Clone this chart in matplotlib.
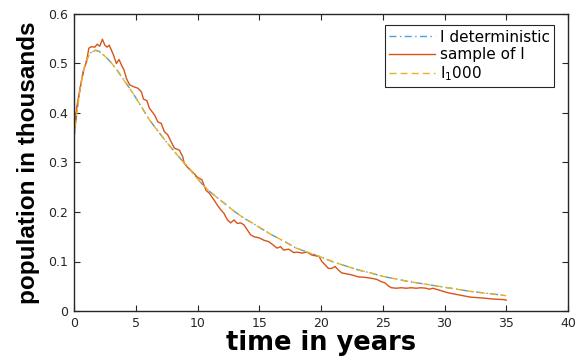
import matplotlib
matplotlib.use("Agg")
import matplotlib.pyplot as plt

# deterministic solution I(t)
t_det = [0, 0.25, 0.5, 0.75, 1.0, 1.25, 1.5, 1.75, 2.0, 2.5, 3.0, 3.5, 4.0, 4.5,
         5.0, 5.5, 6.0, 6.5, 7.0, 7.5, 8.0, 8.5, 9.0, 9.5, 10.0, 10.5, 11.0,
         11.5, 12.0, 12.5, 13.0, 13.5, 14.0, 14.5, 15.0, 16.0, 17.0, 18.0,
         19.0, 20.0, 21.0, 22.0, 23.0, 24.0, 25.0, 26.0, 27.0, 28.0, 29.0,
         30.0, 31.0, 32.0, 33.0, 34.0, 35.0]
i_det = [0.350, 0.405, 0.450, 0.485, 0.506, 0.519, 0.525, 0.527, 0.525, 0.515,
         0.502, 0.486, 0.468, 0.450, 0.431, 0.411, 0.390, 0.373, 0.357, 0.341,
         0.326, 0.311, 0.297, 0.283, 0.267, 0.253, 0.241, 0.231, 0.221, 0.211,
         0.201, 0.192, 0.184, 0.177, 0.169, 0.154, 0.141, 0.127, 0.118, 0.109,
         0.099, 0.091, 0.083, 0.077, 0.070, 0.065, 0.060, 0.056, 0.052, 0.048,
         0.044, 0.040, 0.037, 0.034, 0.031]

# mean of 1000 samples, practically on top of the deterministic curve
i_1000 = [0.350, 0.404, 0.449, 0.484, 0.505, 0.518, 0.524, 0.526, 0.524, 0.515,
          0.502, 0.486, 0.468, 0.450, 0.431, 0.411, 0.390, 0.373, 0.357, 0.341,
          0.326, 0.311, 0.297, 0.283, 0.267, 0.253, 0.241, 0.231, 0.221, 0.211,
          0.201, 0.192, 0.184, 0.177, 0.169, 0.154, 0.141, 0.127, 0.118, 0.109,
          0.099, 0.091, 0.083, 0.077, 0.070, 0.065, 0.060, 0.056, 0.052, 0.048,
          0.044, 0.040, 0.037, 0.034, 0.031]

# one sample path
t_smp = [0, 0.21, 0.42, 0.62, 0.82, 1.02, 1.2, 1.42, 1.69, 1.88,
         2.09, 2.3, 2.5, 2.68, 2.85, 3.03, 3.2, 3.43, 3.65, 3.84,
         4.05, 4.24, 4.5, 4.83, 5.18, 5.45, 5.63, 5.9, 6.1, 6.52,
         6.79, 7.06, 7.32, 7.59, 7.86, 8.13, 8.53, 8.8, 8.93, 9.28,
         9.6, 10.0, 10.36, 10.68, 10.95, 11.35, 11.6, 11.9, 12.15, 12.42,
         12.69, 12.96, 13.22, 13.5, 13.76, 14.03, 14.3, 14.57, 14.97, 15.37,
         15.77, 16.04, 16.44, 16.72, 16.98, 17.38, 17.79, 18.05, 18.46, 18.86,
         19.26, 19.66, 19.85, 20.07, 20.34, 20.6, 20.87, 21.14, 21.4, 21.67,
         22.08, 22.48, 23.02, 23.55, 24.09, 24.5, 24.9, 25.17, 25.43, 25.7,
         26.1, 26.5, 26.9, 27.3, 27.7, 28.1, 28.5, 28.78, 29.05, 29.46,
         29.86, 30.26, 30.66, 31.07, 32.1, 33.2, 34.0, 34.8, 35.0]
i_smp = [0.35, 0.41, 0.44, 0.467, 0.49, 0.504, 0.531, 0.534, 0.533, 0.539,
         0.535, 0.549, 0.537, 0.533, 0.537, 0.527, 0.517, 0.50, 0.508, 0.497,
         0.487, 0.47, 0.457, 0.453, 0.45, 0.443, 0.428, 0.425, 0.41, 0.396,
         0.382, 0.379, 0.362, 0.356, 0.342, 0.329, 0.325, 0.312, 0.298, 0.288,
         0.281, 0.27, 0.265, 0.244, 0.238, 0.224, 0.214, 0.204, 0.197, 0.184,
         0.178, 0.184, 0.177, 0.178, 0.174, 0.164, 0.154, 0.15, 0.148, 0.143,
         0.14, 0.135, 0.127, 0.13, 0.123, 0.125, 0.118, 0.119, 0.117, 0.119,
         0.113, 0.111, 0.11, 0.1, 0.093, 0.086, 0.086, 0.09, 0.083, 0.077,
         0.075, 0.073, 0.069, 0.068, 0.066, 0.064, 0.059, 0.057, 0.051, 0.047,
         0.046, 0.047, 0.046, 0.047, 0.046, 0.047, 0.046, 0.044, 0.046, 0.043,
         0.04, 0.037, 0.035, 0.033, 0.028, 0.026, 0.024, 0.023, 0.022]

x_ticks = [0, 5, 10, 15, 20, 25, 30, 35, 40]
y_ticks = [0, 0.1, 0.2, 0.3, 0.4, 0.5, 0.6]
x_ticklabels = ["0", "5", "10", "15", "20", "25", "30", "35", "40"]
y_ticklabels = ["0", "0.1", "0.2", "0.3", "0.4", "0.5", "0.6"]

AX_COLOR = "#262626"

fig = plt.figure(figsize=(5.81, 3.58), dpi=100)
ax = fig.add_axes([74 / 581, 47 / 358, (568 - 74) / 581, (311 - 14) / 358])

ax.plot(t_det, i_det, color="#4D9FD9", linewidth=1.0, linestyle=(0, (5, 2.5, 1, 2.5)),
        label="I deterministic")
ax.plot(t_smp, i_smp, color="#D95319", linewidth=1.0, label="sample of I")
ax.plot(t_det, i_1000, color="#EDB120", linewidth=1.0, linestyle=(0, (5, 3)),
        label="I$_1$000")

ax.set_xlim(0, 40)
ax.set_ylim(0, 0.6)
ax.set_xticks(x_ticks)
ax.set_xticklabels(x_ticklabels)
ax.set_yticks(y_ticks)
ax.set_yticklabels(y_ticklabels)
ax.tick_params(direction="in", top=True, right=True, length=4, width=0.8,
               color=AX_COLOR, labelcolor=AX_COLOR, labelsize=9, pad=4)
for tl in ax.get_xticklabels() + ax.get_yticklabels():
    tl.set_family("DejaVu Sans")
for s in ax.spines.values():
    s.set_color(AX_COLOR)
    s.set_linewidth(1.0)

ax.set_xlabel("time in years", fontsize=18.5, fontweight="bold", family="DejaVu Sans",
              labelpad=0)
ax.set_ylabel("population in thousands", fontsize=17.5, fontweight="bold",
              family="Liberation Sans", labelpad=6)

leg = ax.legend(loc="upper right", bbox_to_anchor=(0.972, 0.963), frameon=True,
                fancybox=False, edgecolor=AX_COLOR, framealpha=1,
                prop={"family": "DejaVu Sans", "size": 11},
                handlelength=3.0, handletextpad=0.3, borderaxespad=0,
                borderpad=0.3, labelspacing=0.15)
leg.get_frame().set_linewidth(0.8)

fig.savefig("out.png", dpi=100)
